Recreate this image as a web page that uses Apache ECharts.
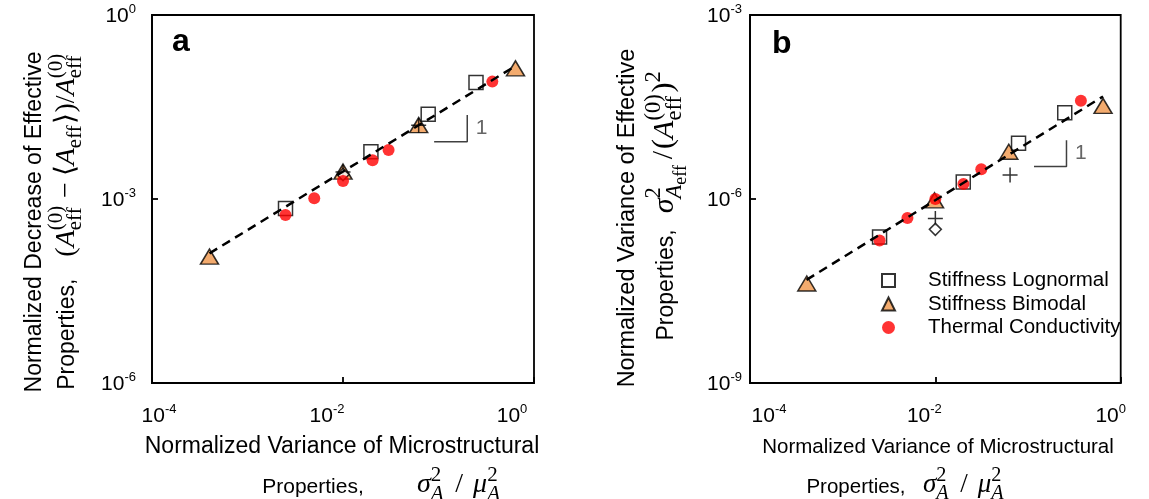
<!DOCTYPE html>
<html>
<head>
<meta charset="utf-8">
<script src="https://cdn.jsdelivr.net/npm/echarts@6/dist/echarts.min.js"></script>
<style>
  html, body { margin: 0; padding: 0; background: #fff; }
  #chart { width: 1149px; height: 499px; }
</style>
</head>
<body>
<div id="chart"></div>
<script>
// ---- Panel a: normalized decrease of effective properties ----
const lognormalX_a = [0.0025, 0.0196, 0.078, 0.247];
const lognormalY_a = [7.0e-4, 5.9e-3, 0.024, 0.079];
const bimodalX_a = [4.0e-4, 0.01, 0.062, 0.64];
const bimodalY_a = [1.15e-4, 2.8e-3, 0.016, 0.135];
const thermalX_a = [0.0025, 0.005, 0.01, 0.0204, 0.030, 0.366];
const thermalY_a = [5.5e-4, 1.03e-3, 1.96e-3, 4.3e-3, 6.3e-3, 0.082];
const plusX_a = [0.01, 0.062];
const plusY_a = [2.75e-3, 0.016];
const diamondX_a = [0.01];
const diamondY_a = [2.5e-3];
const fitX_a = [4.0e-4, 0.65];
const fitY_a = [1.3e-4, 0.15];
const slopeX_a = [0.09, 0.2];
const slopeY_a = [0.0086, 0.0234];

// ---- Panel b: normalized variance of effective properties ----
const lognormalX_b = [0.0025, 0.02, 0.079, 0.249];
const lognormalY_b = [2.4e-7, 1.9e-6, 8.1e-6, 2.56e-5];
const bimodalX_b = [4.1e-4, 0.0098, 0.062, 0.645];
const bimodalY_b = [4.2e-8, 9.5e-7, 5.9e-6, 3.3e-5];
const thermalX_b = [0.0025, 0.005, 0.01, 0.0201, 0.0313, 0.372];
const thermalY_b = [2.1e-7, 4.9e-7, 1.0e-6, 1.76e-6, 3.05e-6, 4.0e-5];
const plusX_b = [0.01, 0.064];
const plusY_b = [4.8e-7, 2.46e-6];
const diamondX_b = [0.01];
const diamondY_b = [3.2e-7];
const fitX_b = [4.07e-4, 0.645];
const fitY_b = [4.8e-8, 4.7e-5];
const slopeX_b = [0.116, 0.26];
const slopeY_b = [3.4e-6, 9.1e-6];

const seriesNames = ['Stiffness Lognormal', 'Stiffness Bimodal', 'Thermal Conductivity'];

const SANS = '"Liberation Sans", Arial, sans-serif';
const SERIF = '"Liberation Serif", "Times New Roman", serif';

const pts = (xs, ys) => xs.map((x, i) => [x, ys[i]]);

// text measuring for hand-set math lines
const mctx = document.createElement('canvas').getContext('2d');
function measure(text, size, family, italic) {
  mctx.font = (italic ? 'italic ' : '') + size + 'px ' + family;
  return mctx.measureText(text).width;
}

// Lay out a line of mixed text / math tokens on a common baseline (y = 0).
// {s}: sans text, {r}: serif roman, {i}: serif italic, {gap}: blank,
// {sup, sub}: stacked scripts, each a list of [text, italic, level]
function mathLine(tokens, size, msize) {
  const small = msize * 0.75, tiny = msize * 0.6;
  const els = [];
  let x = 0;
  function add(text, fs, fam, it, px, base) {
    els.push({
      type: 'text', x: px, y: base - 0.34 * fs, silent: true,
      style: { text: text, fontSize: fs, fontFamily: fam, fontStyle: it ? 'italic' : 'normal',
               fill: '#000', align: 'left', verticalAlign: 'middle' }
    });
    return measure(text, fs, fam, it);
  }
  function script(parts, base) {
    let w = 0;
    parts.forEach(p => {
      const lvl2 = p[2] === 2;
      w += add(p[0], lvl2 ? tiny : small, SERIF, p[1], x + w, base + (lvl2 ? msize * 0.16 : 0));
    });
    return w;
  }
  tokens.forEach(t => {
    if (t.gap) x += t.gap;
    else if (t.s != null) x += add(t.s, size, SANS, false, x, 0);
    else if (t.r != null) x += add(t.r, msize, SERIF, false, x, 0);
    else if (t.i != null) x += add(t.i, msize, SERIF, true, x, 0);
    else {
      let w = 0;
      if (t.sup) w = Math.max(w, script(t.sup, -msize * 0.42));
      if (t.sub) w = Math.max(w, script(t.sub, msize * 0.26));
      x += w + msize * 0.06;
    }
  });
  return { els, width: x };
}

// one title line; (cx, cy) is the middle of the sans text, anchor 'center' or 'start'
function textLine(tokens, size, msize, cx, cy, rotated, anchor) {
  const m = mathLine(tokens, size, msize || size);
  const shift = anchor === 'start' ? 0 : -m.width / 2;
  m.els.forEach(e => { e.x += shift; });
  const off = 0.34 * size;
  return {
    type: 'group', silent: true, children: m.els,
    x: rotated ? cx + off : cx, y: rotated ? cy : cy + off,
    rotation: rotated ? Math.PI / 2 : 0
  };
}

const EFF = [['eff', false, 1]];
const ZERO = [['(0)', false, 1]];
const A_SUB = [['A', true, 1]];
const TWO = [['2', false, 1]];

const yTitleA2 = [
  { s: 'Properties,' }, { gap: 22 },
  { r: '(' }, { i: 'A' }, { sub: EFF, sup: ZERO }, { gap: 6 }, { r: '−' }, { gap: 6 },
  { r: '⟨' }, { i: 'A' }, { sub: EFF }, { r: '⟩)/' }, { i: 'A' }, { sub: EFF, sup: ZERO }
];
const yTitleB2 = [
  { s: 'Properties,' }, { gap: 16 },
  { i: 'σ' }, { sup: TWO, sub: [['A', true, 1], ['eff', false, 2]] }, { gap: 4 }, { r: '/' }, { gap: 2 }, { r: '(' },
  { i: 'A' }, { sub: EFF, sup: ZERO }, { r: ')' }, { sup: TWO }
];
const xFormula = [{ i: 'σ' }, { sup: TWO, sub: A_SUB }, { gap: 10 }, { r: '/' }, { gap: 10 }, { i: 'μ' }, { sup: TWO, sub: A_SUB }];

// tick label: 10 with a raised exponent; per-tick horizontal nudges
function powerLabel(shifts) {
  const rich = {};
  shifts.forEach((d, k) => {
    rich['b' + k] = { fontSize: 21, fontFamily: SANS, color: '#000', lineHeight: 24, verticalAlign: 'bottom',
                      padding: [0, 0, 0, d > 0 ? 2 * d : 0] };
    rich['s' + k] = { fontSize: 13, fontFamily: SANS, color: '#000', lineHeight: 14, verticalAlign: 'top',
                      padding: [0, d < 0 ? -2 * d : 0, 0, 0] };
  });
  return {
    rich,
    formatter: (v, i) => {
      const e = Math.round(Math.log10(v));
      const k = Math.min(i, shifts.length - 1);
      return '{b' + k + '|10}{s' + k + '|' + e + '}';
    }
  };
}

function logAxis(gridIndex, base, min, max, margin, shifts) {
  const pl = powerLabel(shifts);
  return {
    type: 'log', logBase: base, min: min, max: max, gridIndex: gridIndex,
    axisLine: { show: true, lineStyle: { color: '#000', width: 1.8 } },
    axisTick: { show: true, inside: true, length: 6, lineStyle: { color: '#000', width: 1.8 } },
    minorTick: { show: false },
    splitLine: { show: false },
    axisLabel: { margin: margin, formatter: pl.formatter, rich: pl.rich }
  };
}

const squareStyle = { color: 'rgba(255,255,255,0)', borderColor: '#000', borderWidth: 1.5 };
const triStyle = { color: '#F0964A', borderColor: '#000', borderWidth: 1.5 };
const dotStyle = { color: '#FF0000' };
const PLUS = 'path://M6,0L6,12M0,6L12,6';

function panelSeries(g, d) {
  const ax = { xAxisIndex: g, yAxisIndex: g };
  return [
    Object.assign({ type: 'scatter', name: seriesNames[1], symbol: 'triangle', symbolSize: [18, 15],
      itemStyle: triStyle, data: pts(d.bx, d.by), z: 2 }, ax),
    Object.assign({ type: 'scatter', name: 'plus', symbol: PLUS, symbolSize: 15,
      itemStyle: { color: 'none', borderColor: '#000', borderWidth: 1.5 }, data: pts(d.px, d.py), z: 2 }, ax),
    Object.assign({ type: 'scatter', name: 'diamond', symbol: 'diamond', symbolSize: 12,
      itemStyle: { color: '#fff', borderColor: '#000', borderWidth: 1.5 }, data: pts(d.dx, d.dy), z: 2 }, ax),
    Object.assign({ type: 'scatter', name: seriesNames[0], symbol: 'rect', symbolSize: 14,
      itemStyle: squareStyle, data: pts(d.lx, d.ly), z: 3 }, ax),
    Object.assign({ type: 'scatter', name: seriesNames[2], symbol: 'circle', symbolSize: 12,
      itemStyle: dotStyle, data: pts(d.tx, d.ty), z: 3 }, ax),
    Object.assign({ type: 'line', name: 'fit', data: pts(d.fx, d.fy), showSymbol: false, symbol: 'none',
      lineStyle: { color: '#000', width: 2.5, type: [9, 6] }, z: 5 }, ax),
    Object.assign({ type: 'line', name: 'slope', symbol: 'none',
      data: [[d.sx[0], d.sy[0]], [d.sx[1], d.sy[0]], [d.sx[1], d.sy[1]]],
      lineStyle: { color: '#404040', width: 1.5 }, z: 4 }, ax),
    Object.assign({ type: 'scatter', name: 'slopeLabel', symbolSize: 1, itemStyle: { color: 'rgba(0,0,0,0)' },
      data: [[d.sx[1], Math.sqrt(d.sy[0] * d.sy[1])]],
      label: { show: true, formatter: '1', position: 'right', distance: 8, fontSize: 21, fontFamily: SANS, color: '#404040' },
      z: 4 }, ax)
  ];
}

const chart = echarts.init(document.getElementById('chart'), null, { renderer: 'canvas' });

chart.setOption({
  animation: false,
  backgroundColor: '#fff',
  grid: [
    { left: 152, top: 15, width: 382, height: 368, show: true, borderColor: '#000', borderWidth: 1.8, backgroundColor: 'transparent' },
    { left: 750, top: 15, width: 382, height: 368, show: true, borderColor: '#000', borderWidth: 1.8, backgroundColor: 'transparent' }
  ],
  xAxis: [
    logAxis(0, 100, 1e-4, 1, 20, [7, -16, -22]),
    logAxis(1, 100, 1e-4, 1, 20, [19, -11, -10])
  ],
  yAxis: [
    logAxis(0, 1000, 1e-6, 1, 16, [0]),
    logAxis(1, 1000, 1e-9, 1e-3, 8, [0])
  ],
  legend: {
    data: seriesNames,
    orient: 'vertical',
    left: 876, top: 264,
    itemWidth: 13, itemHeight: 13, itemGap: 0.5,
    textStyle: { fontSize: 20.5, fontFamily: SANS, color: '#000', lineHeight: 23, padding: [0, 0, 0, 28] },
    selectedMode: false
  },
  graphic: [
    { type: 'text', x: 172, y: 42, silent: true,
      style: { text: 'a', fontSize: 32, fontWeight: 'bold', fontFamily: SANS, fill: '#000', verticalAlign: 'middle' } },
    { type: 'text', x: 772, y: 44, silent: true,
      style: { text: 'b', fontSize: 32, fontWeight: 'bold', fontFamily: SANS, fill: '#000', verticalAlign: 'middle' } },
    textLine([{ s: 'Normalized Decrease of Effective' }], 23, 0, 35, 222, true),
    textLine(yTitleA2, 23, 28, 68, 221, true),
    textLine([{ s: 'Normalized Variance of Effective' }], 23.5, 0, 628, 218, true),
    textLine(yTitleB2, 23, 30, 667, 205, true),
    textLine([{ s: 'Normalized Variance of Microstructural' }], 23, 0, 342, 447, false),
    textLine([{ s: 'Properties,' }], 21, 0, 313, 487, false),
    textLine(xFormula, 21, 28, 417, 487, false, 'start'),
    textLine([{ s: 'Normalized Variance of Microstructural' }], 20.5, 0, 938, 447, false),
    textLine([{ s: 'Properties,' }], 20.5, 0, 856, 487, false),
    textLine(xFormula, 20.5, 27, 923, 487, false, 'start')
  ],
  series: [].concat(
    panelSeries(0, { lx: lognormalX_a, ly: lognormalY_a, bx: bimodalX_a, by: bimodalY_a, tx: thermalX_a, ty: thermalY_a,
                     px: plusX_a, py: plusY_a, dx: diamondX_a, dy: diamondY_a, fx: fitX_a, fy: fitY_a, sx: slopeX_a, sy: slopeY_a }),
    panelSeries(1, { lx: lognormalX_b, ly: lognormalY_b, bx: bimodalX_b, by: bimodalY_b, tx: thermalX_b, ty: thermalY_b,
                     px: plusX_b, py: plusY_b, dx: diamondX_b, dy: diamondY_b, fx: fitX_b, fy: fitY_b, sx: slopeX_b, sy: slopeY_b })
  )
});
</script>
</body>
</html>
